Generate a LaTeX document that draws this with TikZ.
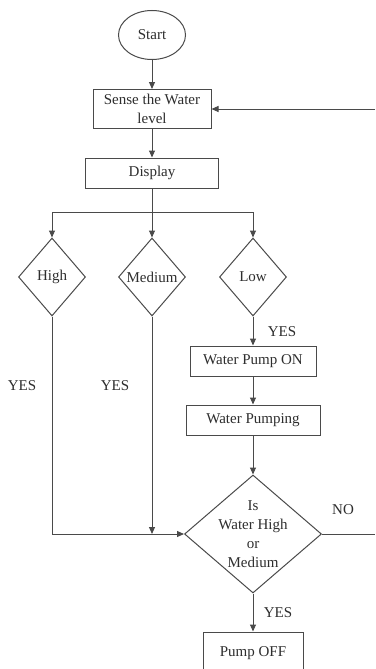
\documentclass[tikz,border=0pt]{standalone}
\usepackage{fontspec}
\setmainfont{Liberation Serif}
\usetikzlibrary{shapes.geometric,arrows.meta}
\definecolor{ln}{HTML}{4A4A4A}
\definecolor{tx}{HTML}{2E2E2E}
\tikzset{
  box/.style={draw=ln, line width=1pt, rectangle, inner sep=0pt, text=tx, align=center},
  dia/.style={draw=ln, line width=1pt, diamond, inner sep=0pt, label={[text=tx, align=center, font=\fontsize{15}{19}\selectfont]center:#1}},
  arr/.style={draw=ln, line width=1pt, -{Triangle[length=7pt,width=6pt]}},
  ln/.style={draw=ln, line width=1pt},
  lab/.style={text=tx, inner sep=0pt}
}
\begin{document}
\begin{tikzpicture}[x=1pt,y=-1pt, font=\fontsize{15}{19}\selectfont]
\useasboundingbox[fill=white] (0,0) rectangle (375,669);
\node[box, ellipse, minimum width=67pt, minimum height=49pt] (start) at (152,35) {Start};
\node[box, minimum width=118pt, minimum height=39pt] (sense) at (152,109) {Sense the Water\\level};
\node[box, minimum width=133pt, minimum height=30pt] (display) at (152,173) {Display};
\node[dia=High, minimum width=67pt, minimum height=78pt] (high) at (52,277) {};
\node[dia=Medium, minimum width=67pt, minimum height=78pt] (medium) at (152,277) {};
\node[dia=Low, minimum width=67pt, minimum height=78pt] (low) at (253,277) {};
\node[box, minimum width=126pt, minimum height=30pt] (pumpon) at (253,361) {Water Pump ON};
\node[box, minimum width=134pt, minimum height=30pt] (pumping) at (253,420) {Water Pumping};
\node[dia={Is\\Water High\\or\\Medium}, minimum width=137pt, minimum height=118pt] (dec) at (253,534) {};
\node[box, minimum width=100pt, minimum height=42pt] (pumpoff) at (253,653) {Pump OFF};

\coordinate (split) at (152,212);
\coordinate (noend) at (375,534);
\coordinate (backin) at (375,109);

\draw[arr] (start) -- (sense);
\draw[arr] (sense) -- (display);
\draw[ln] (display.south) -- (split);
\draw[arr] (split) -| (high.north);
\draw[arr] (split) -| (low.north);
\draw[arr] (split) -- (medium.north);
\draw[arr] (low.south) -- (pumpon.north);
\draw[arr] (pumpon) -- (pumping);
\draw[arr] (pumping.south) -- (dec.north);
\draw[arr] (high.south) |- (dec.west);
\draw[arr] (medium.south) -- (medium.south |- dec.west);
\draw[ln] (dec.east) -- (noend);
\draw[arr] (backin) -- (backin -| sense.east);
\draw[arr] (dec.south) -- (pumpoff.north);

\node[lab] (y1) at (22,386) {YES};
\node[lab] (y2) at (115,386) {YES};
\node[lab] (y3) at (282,332) {YES};
\node[lab] (no) at (343,510) {NO};
\node[lab] (y4) at (278,613) {YES};
\end{tikzpicture}
\end{document}
